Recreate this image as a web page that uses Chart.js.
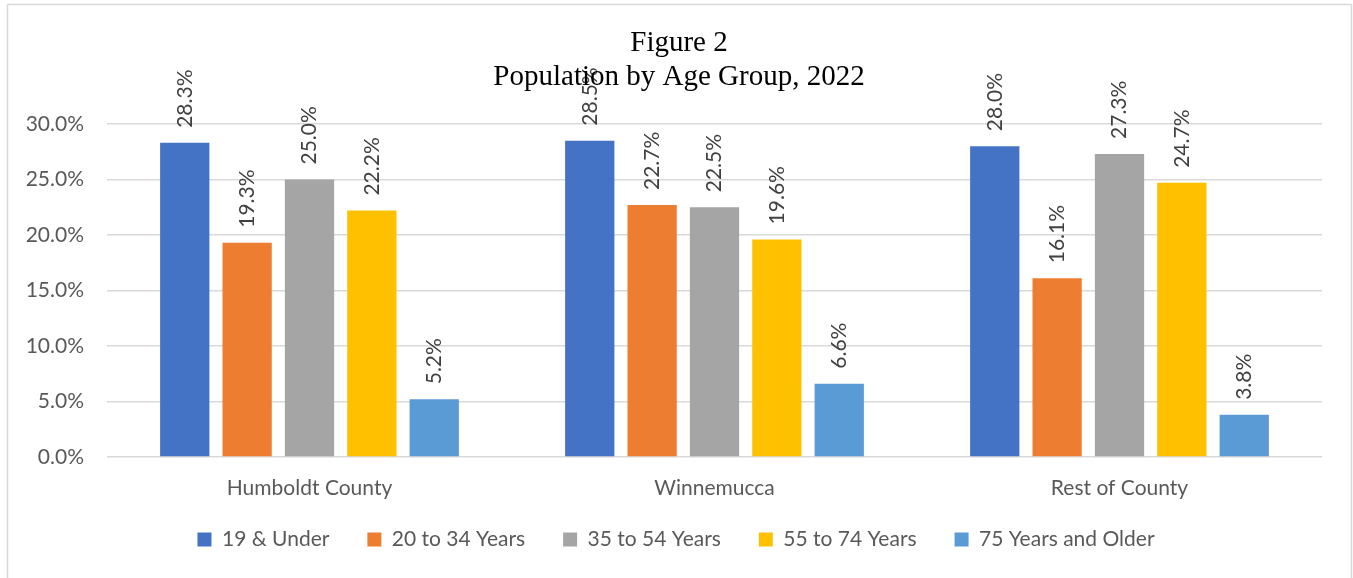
<!DOCTYPE html>
<html>
<head>
<meta charset="utf-8">
<script src="https://cdn.jsdelivr.net/npm/chart.js@4"></script>
<style>
  html, body { margin: 0; padding: 0; background: #fff; }
  #wrap { width: 1353px; height: 578px; position: relative; }
</style>
</head>
<body>
<div id="wrap"><canvas id="barChart"></canvas></div>
<script>
const areas = ['Humboldt County', 'Winnemucca', 'Rest of County']
const ageGroups = ['19 & Under', '20 to 34 Years', '35 to 54 Years', '55 to 74 Years', '75 Years and Older']
const under19 = [28.3, 28.5, 28.0]
const age20to34 = [19.3, 22.7, 16.1]
const age35to54 = [25.0, 22.5, 27.3]
const age55to74 = [22.2, 19.6, 24.7]
const age75plus = [5.2, 6.6, 3.8]
const yTicks = [0, 5, 10, 15, 20, 25, 30]
const titleLines = ['Figure 2', 'Population by Age Group, 2022']

const colors = ['#4472C4', '#ED7D31', '#A5A5A5', '#FFC000', '#5B9BD5']
const seriesValues = [under19, age20to34, age35to54, age55to74, age75plus]

const font = 'Lato'
const textColor = '#595959'

// frame + title, drawn on the canvas
const framePlugin = {
    id: 'frame',
    beforeDraw(chart) {
        const { ctx } = chart
        ctx.save()
        ctx.fillStyle = '#fff'
        ctx.fillRect(0, 0, chart.width, chart.height)
        ctx.strokeStyle = '#d9d9d9'
        ctx.lineWidth = 1.5
        ctx.strokeRect(7.5, 4.5, 1344, 620)
        ctx.restore()
    },
    afterDatasetsDraw(chart) {
        const { ctx } = chart
        // rotated value labels above each bar
        ctx.save()
        ctx.fillStyle = '#404040'
        ctx.font = `21px ${font}`
        ctx.textAlign = 'left'
        ctx.textBaseline = 'middle'
        chart.data.datasets.forEach((ds, i) => {
            const meta = chart.getDatasetMeta(i)
            meta.data.forEach((bar, j) => {
                ctx.save()
                ctx.translate(bar.x, bar.y - 15)
                ctx.rotate(-Math.PI / 2)
                ctx.fillText(ds.data[j].toFixed(1) + '%', 0, 0)
                ctx.restore()
            })
        })
        ctx.restore()

        // title over the plot
        ctx.save()
        ctx.fillStyle = '#000'
        ctx.font = '29px "Liberation Serif"'
        ctx.textAlign = 'center'
        ctx.textBaseline = 'alphabetic'
        ctx.fillText(titleLines[0], 679, 51)
        ctx.fillText(titleLines[1], 679, 85)
        ctx.restore()
    },
    afterLayout(chart) {
        // center the legend on the whole canvas and pull it up a bit
        const lg = chart.legend
        lg.left += 15
        lg.right += 15
        lg.top -= 16
        lg.bottom -= 16
    }
}

new Chart(document.getElementById('barChart'), {
    type: 'bar',
    data: {
        labels: areas,
        datasets: ageGroups.map((name, i) => ({
            label: name,
            data: seriesValues[i],
            backgroundColor: colors[i],
            categoryPercentage: 0.77,
            barPercentage: 0.79
        }))
    },
    options: {
        responsive: true,
        maintainAspectRatio: false,
        animation: false,
        layout: {
            padding: { top: 124, left: 0, right: 31, bottom: 2 }
        },
        scales: {
            x: {
                grid: { display: false, drawTicks: false },
                border: { display: false },
                ticks: {
                    color: textColor,
                    font: { family: font, size: 21 },
                    padding: 19
                },
                afterFit(scale) { scale.height = 50 }
            },
            y: {
                min: 0,
                max: 30,
                afterBuildTicks(scale) {
                    scale.ticks = yTicks.map(v => ({ value: v }))
                },
                grid: { color: '#d9d9d9', lineWidth: 1.5, drawTicks: false },
                border: { display: false },
                ticks: {
                    color: textColor,
                    font: { family: font, size: 21 },
                    padding: 23,
                    callback: v => v.toFixed(1) + '%'
                },
                afterFit(scale) { scale.width = 107 }
            }
        },
        plugins: {
            legend: {
                position: 'bottom',
                labels: {
                    color: textColor,
                    font: { family: font, size: 21 },
                    boxWidth: 14,
                    boxHeight: 14,
                    padding: 38
                }
            },
            tooltip: { enabled: false }
        }
    },
    plugins: [framePlugin]
})
</script>
</body>
</html>
